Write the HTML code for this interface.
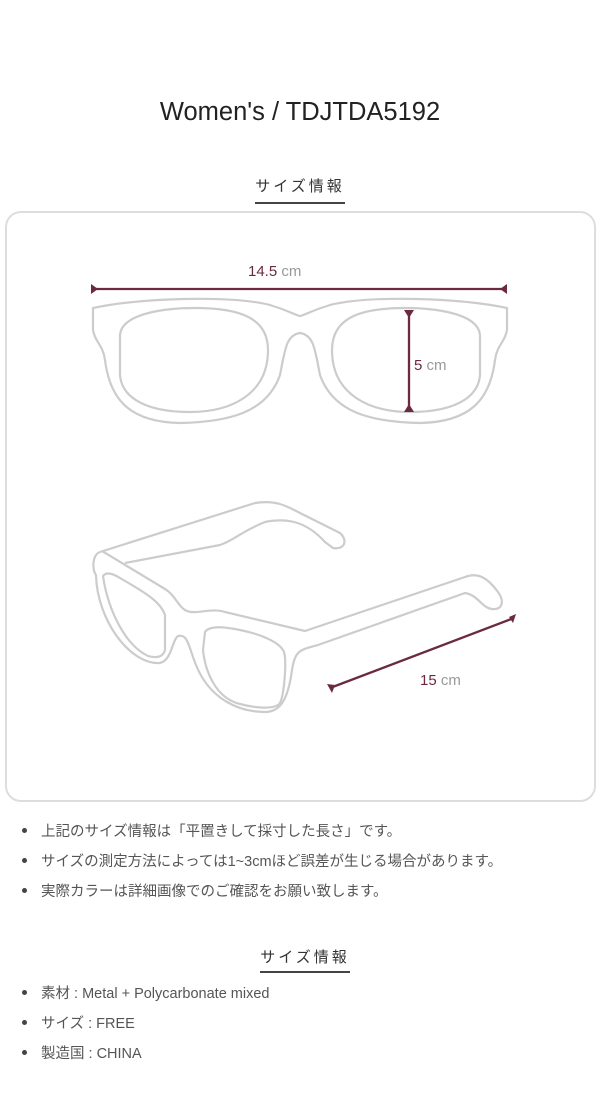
<!DOCTYPE html>
<html><head><meta charset="utf-8"><style>
body{margin:0;width:600px;height:1098px;background:#fff;font-family:"Liberation Sans","Noto Sans CJK JP",sans-serif;color:#444;position:relative;overflow:hidden}
.t{position:absolute;white-space:nowrap}
.h{left:0;width:600px;text-align:center}
li{position:absolute;left:41px;font-size:14.5px;color:#555;list-style:none;white-space:nowrap}
li:before{content:"";position:absolute;left:-19px;top:8px;width:5px;height:5px;border-radius:50%;background:#444}
</style></head><body>
<div class="t h" style="top:98px;font-size:25.5px;color:#222">Women's / TDJTDA5192</div>
<div class="t h" style="top:175px;font-size:15px;letter-spacing:3px;color:#333">サイズ情報</div>
<div style="position:absolute;left:255px;top:202px;width:90px;height:2px;background:#444"></div>
<div style="position:absolute;left:5px;top:211px;width:587px;height:587px;border:2px solid #ddd;border-radius:16px"></div>
<svg width="600" height="1098" style="position:absolute;left:0;top:0" fill="none">
<g stroke="#ccc" stroke-width="2.2" stroke-linejoin="round">
<path d="M93,308 C140,298 230,295 270,305 C290,311 297,316 300,316 C303,316 310,311 330,305 C370,295 460,298 507,308 L507,330 C505,342 497,345 495,360 C490,400 470,422 420,423 C370,422 333,412 320,375 C315,350 314,335 300,333 C286,335 285,350 280,375 C267,412 230,422 180,423 C130,422 110,400 105,360 C103,345 95,342 93,330 Z"/>
<path d="M120,335 C122,312 170,308 195,308 C240,308 268,318 268,350 C268,395 230,412 190,412 C150,412 122,400 120,375 Z"/>
<path d="M480,335 C478,312 430,308 405,308 C360,308 332,318 332,350 C332,395 370,412 410,412 C450,412 478,400 480,375 Z"/>
<path d="M100,552 L255,503 C275,500 285,505 300,513 L340,533 C348,540 345,550 333,548 L325,542 C305,520 285,518 265,522 C240,532 235,540 220,545 L125,563"/>
<path d="M100,552 C92,555 92,570 96,575 C97,620 130,665 160,663 C172,660 172,640 178,636 C188,634 188,645 196,665 C210,700 240,712 265,712 C280,712 288,700 292,670 C295,650 300,650 318,645 L465,593 C478,595 482,608 492,609 C502,610 505,602 498,592 C488,578 478,572 465,577 L305,631 L225,612 C210,607 195,616 185,610 C178,606 175,595 165,589 L102,551"/>
<path d="M103,576 C106,572 112,573 120,578 C140,590 160,600 165,615 L165,650 C163,658 155,658 148,656 C125,645 108,610 103,576 Z"/>
<path d="M205,632 C210,625 225,627 240,630 C260,634 280,642 284,652 C287,662 284,695 280,703 C275,710 255,708 240,704 C215,698 205,670 203,650 Z"/>
</g>
<g stroke="#6b2a42" stroke-width="2.3" fill="#6b2a42">
<line x1="92" y1="289" x2="506" y2="289"/>
<path d="M91,284 L98,289 L91,294 Z M507,284 L500,289 L507,294 Z" stroke="none"/>
<line x1="409" y1="311" x2="409" y2="410"/>
<path d="M404,310 L414,310 L409,318 Z M404,412 L414,412 L409,404 Z" stroke="none"/>
<line x1="330" y1="688" x2="514" y2="618"/>
<path d="M327,684 L332,693 L335,685 Z M516,614 L513,623 L509,617 Z" stroke="none"/>
</g>
<g font-family="Liberation Sans, sans-serif" font-size="15">
<text x="248" y="276" fill="#6b2a42">14.5<tspan fill="#999"> cm</tspan></text>
<text x="414" y="370" fill="#6b2a42">5<tspan fill="#999"> cm</tspan></text>
<text x="420" y="685" fill="#6b2a42">15<tspan fill="#999"> cm</tspan></text>
</g>
</svg>
<ul style="margin:0;padding:0">
<li style="top:820px">上記のサイズ情報は「平置きして採寸した長さ」です。</li>
<li style="top:850px">サイズの測定方法によっては1~3cmほど誤差が生じる場合があります。</li>
<li style="top:880px">実際カラーは詳細画像でのご確認をお願い致します。</li>
</ul>
<div class="t h" style="top:946px;font-size:15px;letter-spacing:3px;color:#333;padding-left:10px;box-sizing:border-box">サイズ情報</div>
<div style="position:absolute;left:260px;top:971px;width:90px;height:2px;background:#444"></div>
<ul style="margin:0;padding:0">
<li style="top:982px">素材 : Metal + Polycarbonate mixed</li>
<li style="top:1012px">サイズ : FREE</li>
<li style="top:1042px">製造国 : CHINA</li>
</ul>
</body></html>
